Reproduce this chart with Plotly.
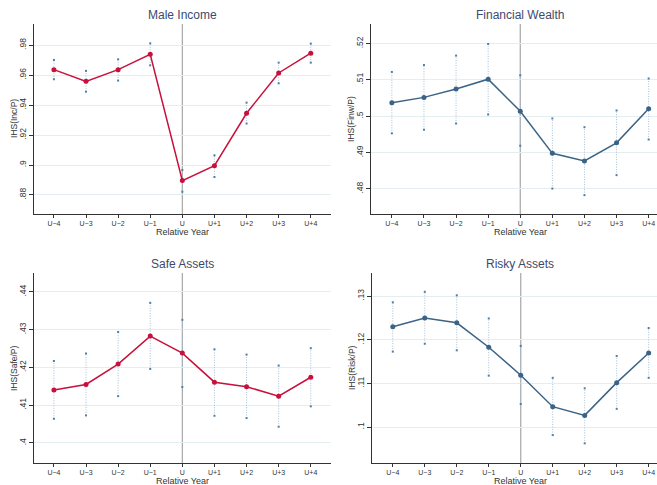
import plotly.graph_objects as go

years = ["U\u22124", "U\u22123", "U\u22122", "U\u22121", "U", "U+1", "U+2", "U+3", "U+4"]

# Male Income
inc_est = [0.9637, 0.9559, 0.9637, 0.9740, 0.8896, 0.8996, 0.9346, 0.9615, 0.9747]
inc_lo  = [0.9573, 0.9490, 0.9564, 0.9666, 0.8822, 0.8920, 0.9277, 0.9546, 0.9684]
inc_hi  = [0.9702, 0.9629, 0.9706, 0.9813, 0.8967, 0.9065, 0.9417, 0.9684, 0.9811]

# Financial Wealth
finw_est = [0.5037, 0.5052, 0.5075, 0.5102, 0.5014, 0.4898, 0.4877, 0.4927, 0.5021]
finw_lo  = [0.4953, 0.4963, 0.4980, 0.5005, 0.4919, 0.4801, 0.4783, 0.4838, 0.4936]
finw_hi  = [0.5122, 0.5141, 0.5167, 0.5199, 0.5113, 0.4994, 0.4970, 0.5016, 0.5104]

# Safe Assets
safe_est = [0.4140, 0.4155, 0.4209, 0.4283, 0.4238, 0.4161, 0.4149, 0.4124, 0.4174]
safe_lo  = [0.4064, 0.4073, 0.4124, 0.4196, 0.4148, 0.4072, 0.4066, 0.4043, 0.4097]
safe_hi  = [0.4217, 0.4237, 0.4294, 0.4371, 0.4326, 0.4248, 0.4234, 0.4205, 0.4251]

# Risky Assets
risk_est = [0.1230, 0.1250, 0.1239, 0.1183, 0.1119, 0.1047, 0.1027, 0.1102, 0.1170]
risk_lo  = [0.1173, 0.1191, 0.1176, 0.1118, 0.1053, 0.0982, 0.0963, 0.1042, 0.1113]
risk_hi  = [0.1286, 0.1310, 0.1302, 0.1249, 0.1186, 0.1113, 0.1089, 0.1163, 0.1227]

inc_ticks = [0.88, 0.90, 0.92, 0.94, 0.96, 0.98]
inc_ticktext = [".88", ".9", ".92", ".94", ".96", ".98"]
finw_ticks = [0.48, 0.49, 0.50, 0.51, 0.52]
finw_ticktext = [".48", ".49", ".5", ".51", ".52"]
safe_ticks = [0.40, 0.41, 0.42, 0.43, 0.44]
safe_ticktext = [".4", ".41", ".42", ".43", ".44"]
risk_ticks = [0.10, 0.11, 0.12, 0.13]
risk_ticktext = [".1", ".11", ".12", ".13"]

titles = ["Male Income", "Financial Wealth", "Safe Assets", "Risky Assets"]
ytitles = ["IHS(Inc/P)", "IHS(Finw/P)", "IHS(Safe/P)", "IHS(Risk/P)"]

W, H = 657, 485
RED = "#c8103c"
BLUE = "#3b6385"
CI_COL = "#a3bfd8"
CI_END = "#4f7fa8"
FONT = "Liberation Sans, Arial, sans-serif"

panels = [
    dict(est=inc_est, lo=inc_lo, hi=inc_hi, col=RED, ticks=inc_ticks, tt=inc_ticktext,
         yr=[0.8673, 0.9942], px=(34, 331), py=(24, 214), xr=[-0.62, 8.63], tx=182),
    dict(est=finw_est, lo=finw_lo, hi=finw_hi, col=BLUE, ticks=finw_ticks, tt=finw_ticktext,
         yr=[0.4731, 0.5254], px=(371, 657), py=(24, 214), xr=[-0.65, 8.26], tx=520),
    dict(est=safe_est, lo=safe_lo, hi=safe_hi, col=RED, ticks=safe_ticks, tt=safe_ticktext,
         yr=[0.3947, 0.4450], px=(34, 331), py=(273, 463), xr=[-0.62, 8.63], tx=182),
    dict(est=risk_est, lo=risk_lo, hi=risk_hi, col=BLUE, ticks=risk_ticks, tt=risk_ticktext,
         yr=[0.0918, 0.1353], px=(372, 657), py=(273, 463), xr=[-0.65, 8.26], tx=520),
]

fig = go.Figure()
annotations = []
shapes = []
for k, p in enumerate(panels):
    n = "" if k == 0 else str(k + 1)
    xa, ya = "x" + n, "y" + n
    # CI dotted segments
    cx, cy = [], []
    for yv, lo, hi in zip(years, p["lo"], p["hi"]):
        cx += [yv, yv, None]
        cy += [lo, hi, None]
    fig.add_trace(go.Scatter(x=cx, y=cy, mode="lines", xaxis=xa, yaxis=ya,
                             line=dict(color=CI_COL, width=1, dash="1px,1.5px"),
                             connectgaps=False, showlegend=False, hoverinfo="skip"))
    fig.add_trace(go.Scatter(x=years + years, y=p["lo"] + p["hi"], mode="markers",
                             xaxis=xa, yaxis=ya, marker=dict(color=CI_END, size=2, symbol="square"),
                             showlegend=False, hoverinfo="skip"))
    fig.add_trace(go.Scatter(x=years, y=p["est"], mode="lines+markers", xaxis=xa, yaxis=ya,
                             line=dict(color=p["col"], width=1.5),
                             marker=dict(color=p["col"], size=5),
                             showlegend=False))
    x0, x1 = p["px"][0] / W, min(p["px"][1] / W, 1.0)
    y0, y1 = 1 - p["py"][1] / H, 1 - p["py"][0] / H
    common = dict(showline=True, linecolor="#333333", linewidth=1, ticks="outside",
                  tickcolor="#333333", zeroline=False, mirror=False, automargin=False)
    fig.layout["xaxis" + n] = dict(domain=[x0, x1], anchor=ya, type="category",
                                   categoryorder="array", categoryarray=years,
                                   range=p["xr"], showgrid=False, ticklen=3, tickwidth=1,
                                   tickangle=0,
                                   tickfont=dict(size=7, color="#333333", family=FONT),
                                   **common)
    fig.layout["yaxis" + n] = dict(domain=[y0, y1], anchor=xa, range=p["yr"],
                                   tickvals=p["ticks"], ticktext=p["tt"], tickangle=-90,
                                   showgrid=True, gridcolor="#e3eef0", gridwidth=1,
                                   ticklen=4, tickwidth=1,
                                   tickfont=dict(size=8.5, color="#333333", family=FONT),
                                   **common)
    # vertical line at U
    shapes.append(dict(type="line", xref=xa, yref=ya + " domain", x0="U", x1="U", y0=0, y1=1,
                       line=dict(color="#a6a6a6", width=1.2), layer="below"))
    # title
    annotations.append(dict(text=titles[k], x=p["tx"] / W,
                            y=1 - (p["py"][0] - 9) / H, xref="paper", yref="paper",
                            xanchor="center", yanchor="middle", showarrow=False,
                            font=dict(size=12, color="#3b4a70", family=FONT)))
    # x-axis title
    annotations.append(dict(text="Relative Year", x=p["tx"] / W,
                            y=1 - (p["py"][1] + 18) / H, xref="paper", yref="paper",
                            xanchor="center", yanchor="middle", showarrow=False,
                            font=dict(size=9, color="#333333", family=FONT)))
    # y-axis title
    annotations.append(dict(text=ytitles[k], x=(p["px"][0] - 20) / W,
                            y=1 - (p["py"][0] + p["py"][1]) / 2 / H, xref="paper", yref="paper",
                            xanchor="center", yanchor="middle", showarrow=False, textangle=-90,
                            font=dict(size=8.5, color="#333333", family=FONT)))

fig.update_layout(template="none", width=W, height=H, margin=dict(l=0, r=0, t=0, b=0, pad=0),
                  paper_bgcolor="white", plot_bgcolor="white",
                  annotations=annotations, shapes=shapes,
                  font=dict(family=FONT))
fig.write_html("out.html", config={"displayModeBar": False},
               post_script="document.body.style.margin='0';document.body.style.overflow='hidden';")
